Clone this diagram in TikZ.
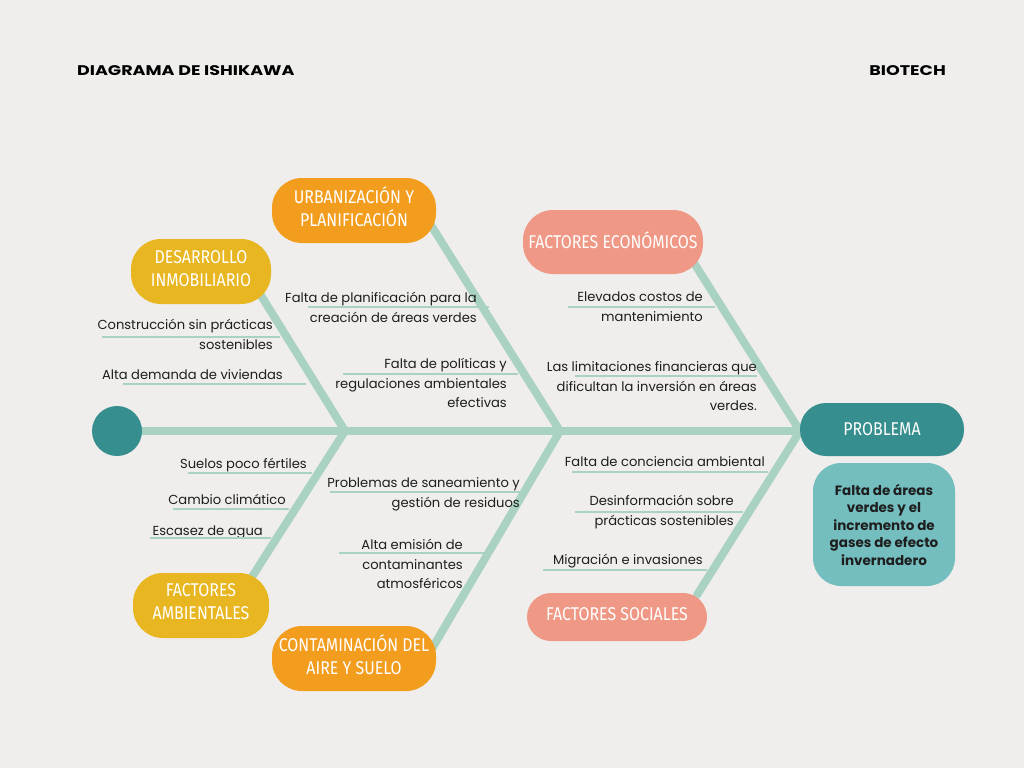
\documentclass[tikz,border=0pt]{standalone}
\usepackage{fontspec}
\setmainfont{Poppins}
\newfontfamily\condfont[FakeStretch=0.86]{Fira Sans}
\newfontfamily\widefont[FakeStretch=1.25]{Poppins}
\usetikzlibrary{calc}
\definecolor{bgc}{HTML}{EFEEEC}
\definecolor{bonec}{HTML}{AAD2C3}
\definecolor{tealc}{HTML}{368F8E}
\definecolor{lteal}{HTML}{74BEC0}
\definecolor{orangec}{HTML}{F39D1F}
\definecolor{yellowc}{HTML}{E8B620}
\definecolor{salmonc}{HTML}{EF9885}
\definecolor{txtc}{HTML}{1E1E1E}
\begin{document}
\begin{tikzpicture}[x=1pt,y=-1pt,
  bone/.style={line width=8pt,draw=bonec,line cap=round},
  uline/.style={line width=1.3pt,draw=bonec},
  catbox/.style={rounded corners=#1,inner sep=0pt},
  catbox/.default=30pt,
  cattext/.style={text=white,align=center,inner sep=0pt,
    font=\condfont\fontsize{18.5}{23}\selectfont},
  lbl/.style={align=right,inner sep=0pt,text=txtc,
    font=\fontsize{13.1}{19.5}\selectfont},
  hdr/.style={inner sep=0pt,text=black,font=\widefont\bfseries\fontsize{14}{16}\selectfont}]
\fill[bgc] (0,0) rectangle (1024,768);
\useasboundingbox (0,0) rectangle (1024,768);

% header
\node[hdr,anchor=west] (title) at (77,71) {DIAGRAMA DE ISHIKAWA};
\node[hdr,anchor=east] (brand) at (946,71) {BIOTECH};

% spine junctions
\coordinate (j1) at (345,431);
\coordinate (j2) at (560,431);
\coordinate (j3) at (800,431);
\coordinate (tail) at (117,431);

% bones
\draw[bone] (tail) -- (j3);
\draw[bone] (j1) -- (257,289);
\draw[bone] (j2) -- (429,222);
\draw[bone] (j3) -- (694,263);
\draw[bone] (j1) -- (250,580);
\draw[bone] (j2) -- (430,652);
\draw[bone] (j3) -- (697,595);

% head circle
\fill[tealc] (tail) circle (25);
\node[inner sep=0pt,minimum size=50pt] (head) at (tail) {};

% category boxes
\node[catbox,fill=yellowc,minimum width=140pt,minimum height=65pt] (des) at (201,271.5) {};
\node[cattext] (des-t) at ($(des)+(0,-2.5)$) {DESARROLLO\\INMOBILIARIO};
\node[catbox,fill=orangec,minimum width=164pt,minimum height=65pt] (urb) at (354,210.5) {};
\node[cattext] (urb-t) at ($(urb)+(0,-3.5)$) {URBANIZACIÓN Y\\PLANIFICACIÓN};
\node[catbox,fill=salmonc,minimum width=180pt,minimum height=64pt] (eco) at (613,242) {};
\node[cattext] (eco-t) at ($(eco)+(0,-1.5)$) {FACTORES ECONÓMICOS};
\node[catbox,fill=yellowc,minimum width=136pt,minimum height=65pt] (amb) at (201,605.5) {};
\node[cattext] (amb-t) at ($(amb)+(0,-3.5)$) {FACTORES\\AMBIENTALES};
\node[catbox,fill=orangec,minimum width=164pt,minimum height=65pt] (con) at (354,658.5) {};
\node[cattext] (con-t) at ($(con)+(0,-4)$) {CONTAMINACIÓN DEL\\AIRE Y SUELO};
\node[catbox=24pt,fill=salmonc,minimum width=180pt,minimum height=48pt] (soc) at (617,617) {};
\node[cattext] (soc-t) at ($(soc)+(0,-3)$) {FACTORES SOCIALES};
\node[catbox=26pt,fill=tealc,minimum width=164pt,minimum height=53pt] (prob) at (882,429.5) {};
\node[cattext] (prob-t) at ($(prob)+(0,-0.5)$) {PROBLEMA};
\node[rounded corners=28pt,fill=lteal,minimum width=142pt,minimum height=123pt,inner sep=0pt,
  align=center,text=txtc,font=\bfseries\fontsize{13.5}{17.5}\selectfont] (desc) at (884,524.5)
  {Falta de áreas\\verdes y el\\incremento de\\gases de efecto\\invernadero};

% labels (upper)
\node[lbl,anchor=base east] (a1) at (273,349) {Construcción sin prácticas\\sostenibles};
\draw[uline] (102,337) -- (280,337);
\node[lbl,anchor=base east] (a2) at (283,379.5) {Alta demanda de viviendas};
\draw[uline] (123,384) -- (306,384);

\node[lbl,anchor=base east] (b1) at (477,322) {Falta de planificación para la\\creación de áreas verdes};
\draw[uline] (308,307) -- (489,307);
\node[lbl,anchor=base east] (b2) at (507,407.5) {Falta de políticas y\\regulaciones ambientales\\efectivas};
\draw[uline] (343,374) -- (518,374);

\node[lbl,anchor=base east] (c1) at (703,321) {Elevados costos de\\mantenimiento};
\draw[uline] (568,307) -- (715,307);
\node[lbl,anchor=base east] (c2) at (757,410.5) {Las limitaciones financieras que\\dificultan la inversión en áreas\\verdes.};
\draw[uline] (575,376) -- (757,376);

% labels (lower)
\node[lbl,anchor=base east] (d1) at (307,468.5) {Suelos poco fértiles};
\draw[uline] (188,473) -- (312,473);
\node[lbl,anchor=base east] (d2) at (286,504.5) {Cambio climático};
\draw[uline] (173,509) -- (289,509);
\node[lbl,anchor=base east] (d3) at (263,535.5) {Escasez de agua};
\draw[uline] (150,538) -- (271,538);

\node[lbl,anchor=base east] (e1) at (520,507) {Problemas de saneamiento y\\gestión de residuos};
\draw[uline] (330,492) -- (523,492);
\node[lbl,anchor=base east] (e2) at (463,588.5) {Alta emisión de\\contaminantes\\atmosféricos};
\draw[uline] (339,553) -- (485,553);

\node[lbl,anchor=base east] (f1) at (765,466.5) {Falta de conciencia ambiental};
\draw[uline] (572,472) -- (768,472);
\node[lbl,anchor=base east] (f2) at (734,525) {Desinformación sobre\\prácticas sostenibles};
\draw[uline] (575,512) -- (743,512);
\node[lbl,anchor=base east] (f3) at (703,564.5) {Migración e invasiones};
\draw[uline] (543,570) -- (707,570);
\end{tikzpicture}
\end{document}
